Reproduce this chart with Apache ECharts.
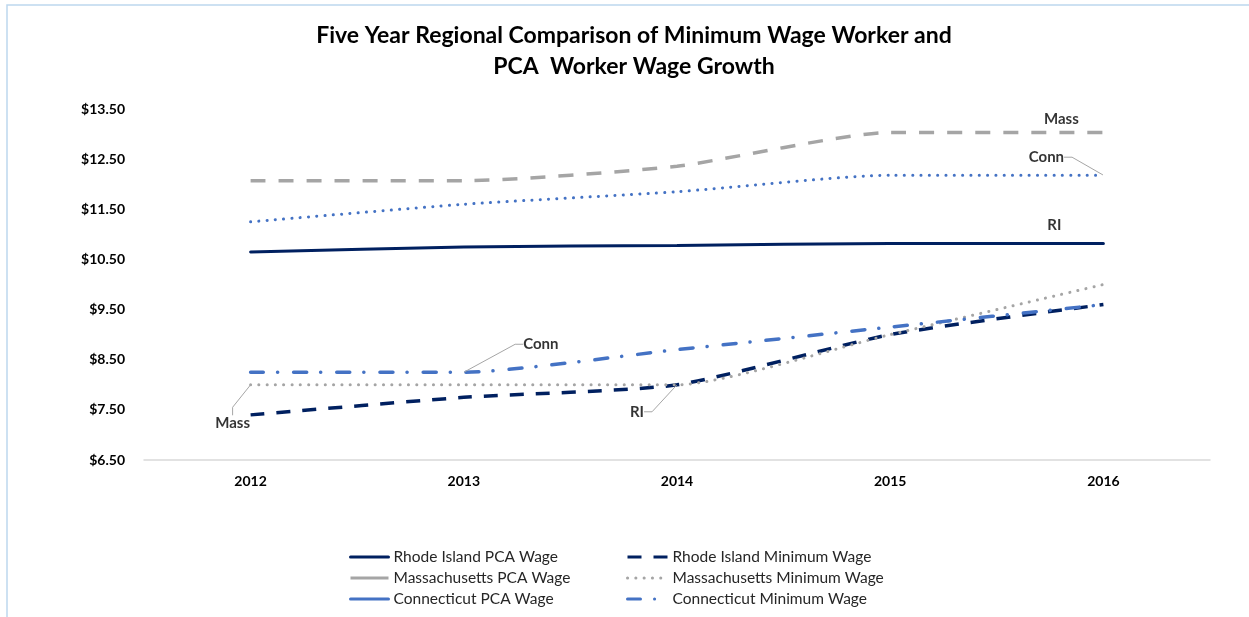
<!DOCTYPE html>
<html>
<head>
<meta charset="utf-8">
<script src="https://cdn.jsdelivr.net/npm/echarts@6/dist/echarts.min.js"></script>
<style>
html,body{margin:0;padding:0;background:#fff;}
#c{width:1249px;height:617px;}
</style>
</head>
<body>
<div id="c"></div>
<script>
// ---- data ----
const years = ['2012', '2013', '2014', '2015', '2016'];
const riPca = [10.65, 10.75, 10.78, 10.82, 10.82];
const massPca = [12.07, 12.07, 12.36, 13.03, 13.03];
const connPca = [11.25, 11.60, 11.85, 12.18, 12.18];
const riMin = [7.40, 7.75, 8.00, 9.00, 9.60];
const massMin = [8.00, 8.00, 8.00, 9.00, 10.00];
const connMin = [8.25, 8.25, 8.70, 9.15, 9.60];
const seriesNames = ['Rhode Island PCA Wage', 'Rhode Island Minimum Wage',
  'Massachusetts PCA Wage', 'Massachusetts Minimum Wage',
  'Connecticut PCA Wage', 'Connecticut Minimum Wage'];
const yTicks = [6.5, 7.5, 8.5, 9.5, 10.5, 11.5, 12.5, 13.5];
// point labels: [text, series array, year index]
const pointLabels = [
  ['Mass', massPca, 4],
  ['Conn', connPca, 4],
  ['RI', riPca, 4],
  ['Mass', massMin, 0],
  ['Conn', connMin, 1],
  ['RI', riMin, 2]
];
// ---- styling ----
const labelOffsets = [[-42, -13], [-57, -18], [-49, -18], [-18, 38], [77, -28], [-40, 27]];
const labelLeader = [false, true, false, true, true, true];
const FONT = 'Lato, "Open Sans", sans-serif';
const NAVY = '#002060', GRAY = '#A5A5A5', BLUE = '#4472C4';

function lineSeries(name, data, color, type, cap, width) {
  return {
    name: name, type: 'line', data: data, smooth: 0.2,
    symbol: 'none', showSymbol: false, silent: true,
    lineStyle: { color: color, width: width || 3, type: type, cap: cap || 'butt' },
    itemStyle: { color: color },
    z: 2
  };
}

const legendCommon = {
  orient: 'vertical', top: 544, itemHeight: 14, itemGap: 5,
  textStyle: { fontFamily: FONT, fontSize: 15.5, color: '#262626' },
  itemStyle: { color: 'rgba(0,0,0,0)', borderWidth: 0, opacity: 0 },
  lineStyle: { width: 3 }
};

const chart = echarts.init(document.getElementById('c'), null, { renderer: 'canvas' });
chart.setOption({
  animation: false,
  backgroundColor: '#fff',
  title: {
    text: 'Five Year Regional Comparison of Minimum Wage Worker and\nPCA  Worker Wage Growth',
    left: 629, top: 15, textAlign: 'center',
    textStyle: { fontFamily: FONT, fontSize: 23, fontWeight: 'bold', color: '#000', lineHeight: 31 }
  },
  graphic: [{
    type: 'rect', shape: { x: 7, y: 5, width: 1300, height: 700 },
    style: { fill: 'none', stroke: '#BDD7EE', lineWidth: 1.5 }, silent: true, z: -1
  }],
  grid: { left: 144, right: 39, top: 109, bottom: 157, containLabel: false, outerBoundsMode: 'none' },
  xAxis: {
    type: 'category', data: years, boundaryGap: true,
    axisTick: { show: false },
    axisLine: { lineStyle: { color: '#D9D9D9', width: 1.5 } },
    axisLabel: { fontFamily: FONT, fontSize: 14, fontWeight: 'bold', color: '#000', margin: 14 },
    splitLine: { show: false }
  },
  yAxis: {
    type: 'value', min: yTicks[0], max: yTicks[yTicks.length - 1], interval: 1,
    axisLine: { show: false }, axisTick: { show: false }, splitLine: { show: false },
    axisLabel: {
      fontFamily: FONT, fontSize: 14, fontWeight: 'bold', color: '#000', margin: 19,
      formatter: v => '$' + v.toFixed(2)
    }
  },
  legend: [Object.assign({}, legendCommon, {
    left: 344, itemWidth: 38,
    data: [
      { name: seriesNames[0], lineStyle: { type: 'solid', width: 3 } },
      { name: seriesNames[2], lineStyle: { type: 'solid', width: 3 } },
      { name: seriesNames[4], lineStyle: { type: 'solid', width: 3 } }
    ]
  }), Object.assign({}, legendCommon, {
    left: 621, itemWidth: 40,
    data: [seriesNames[1], seriesNames[3], seriesNames[5]]
  })],
  series: [
    lineSeries(seriesNames[0], riPca, NAVY, 'solid', 'round', 3),
    lineSeries(seriesNames[1], riMin, NAVY, [14, 12], 'butt', 3.5),
    lineSeries(seriesNames[2], massPca, GRAY, [15, 13], 'butt', 3.5),
    lineSeries(seriesNames[3], massMin, GRAY, [0.1, 8.2], 'round', 3),
    lineSeries(seriesNames[4], connPca, BLUE, [0.1, 8.2], 'round', 3),
    lineSeries(seriesNames[5], connMin, BLUE, [13, 14, 0.1, 16], 'round', 3.5),
    {
      type: 'scatter', silent: true, symbolSize: 1, z: 5,
      itemStyle: { color: 'rgba(0,0,0,0)' },
      data: pointLabels.map((p, i) => ({
        value: [years[p[2]], p[1][p[2]]],
        label: { show: true, formatter: p[0] },
        labelLine: { show: labelLeader[i] }
      })),
      label: {
        show: true, position: 'inside', fontFamily: FONT, fontSize: 15, fontWeight: 'bold', color: '#000'
      },
      labelLine: { show: true, length2: 8, lineStyle: { color: '#A6A6A6', width: 1 } },
      labelLayout: params => ({ dx: labelOffsets[params.dataIndex][0], dy: labelOffsets[params.dataIndex][1] })
    }
  ]
});
</script>
</body>
</html>
